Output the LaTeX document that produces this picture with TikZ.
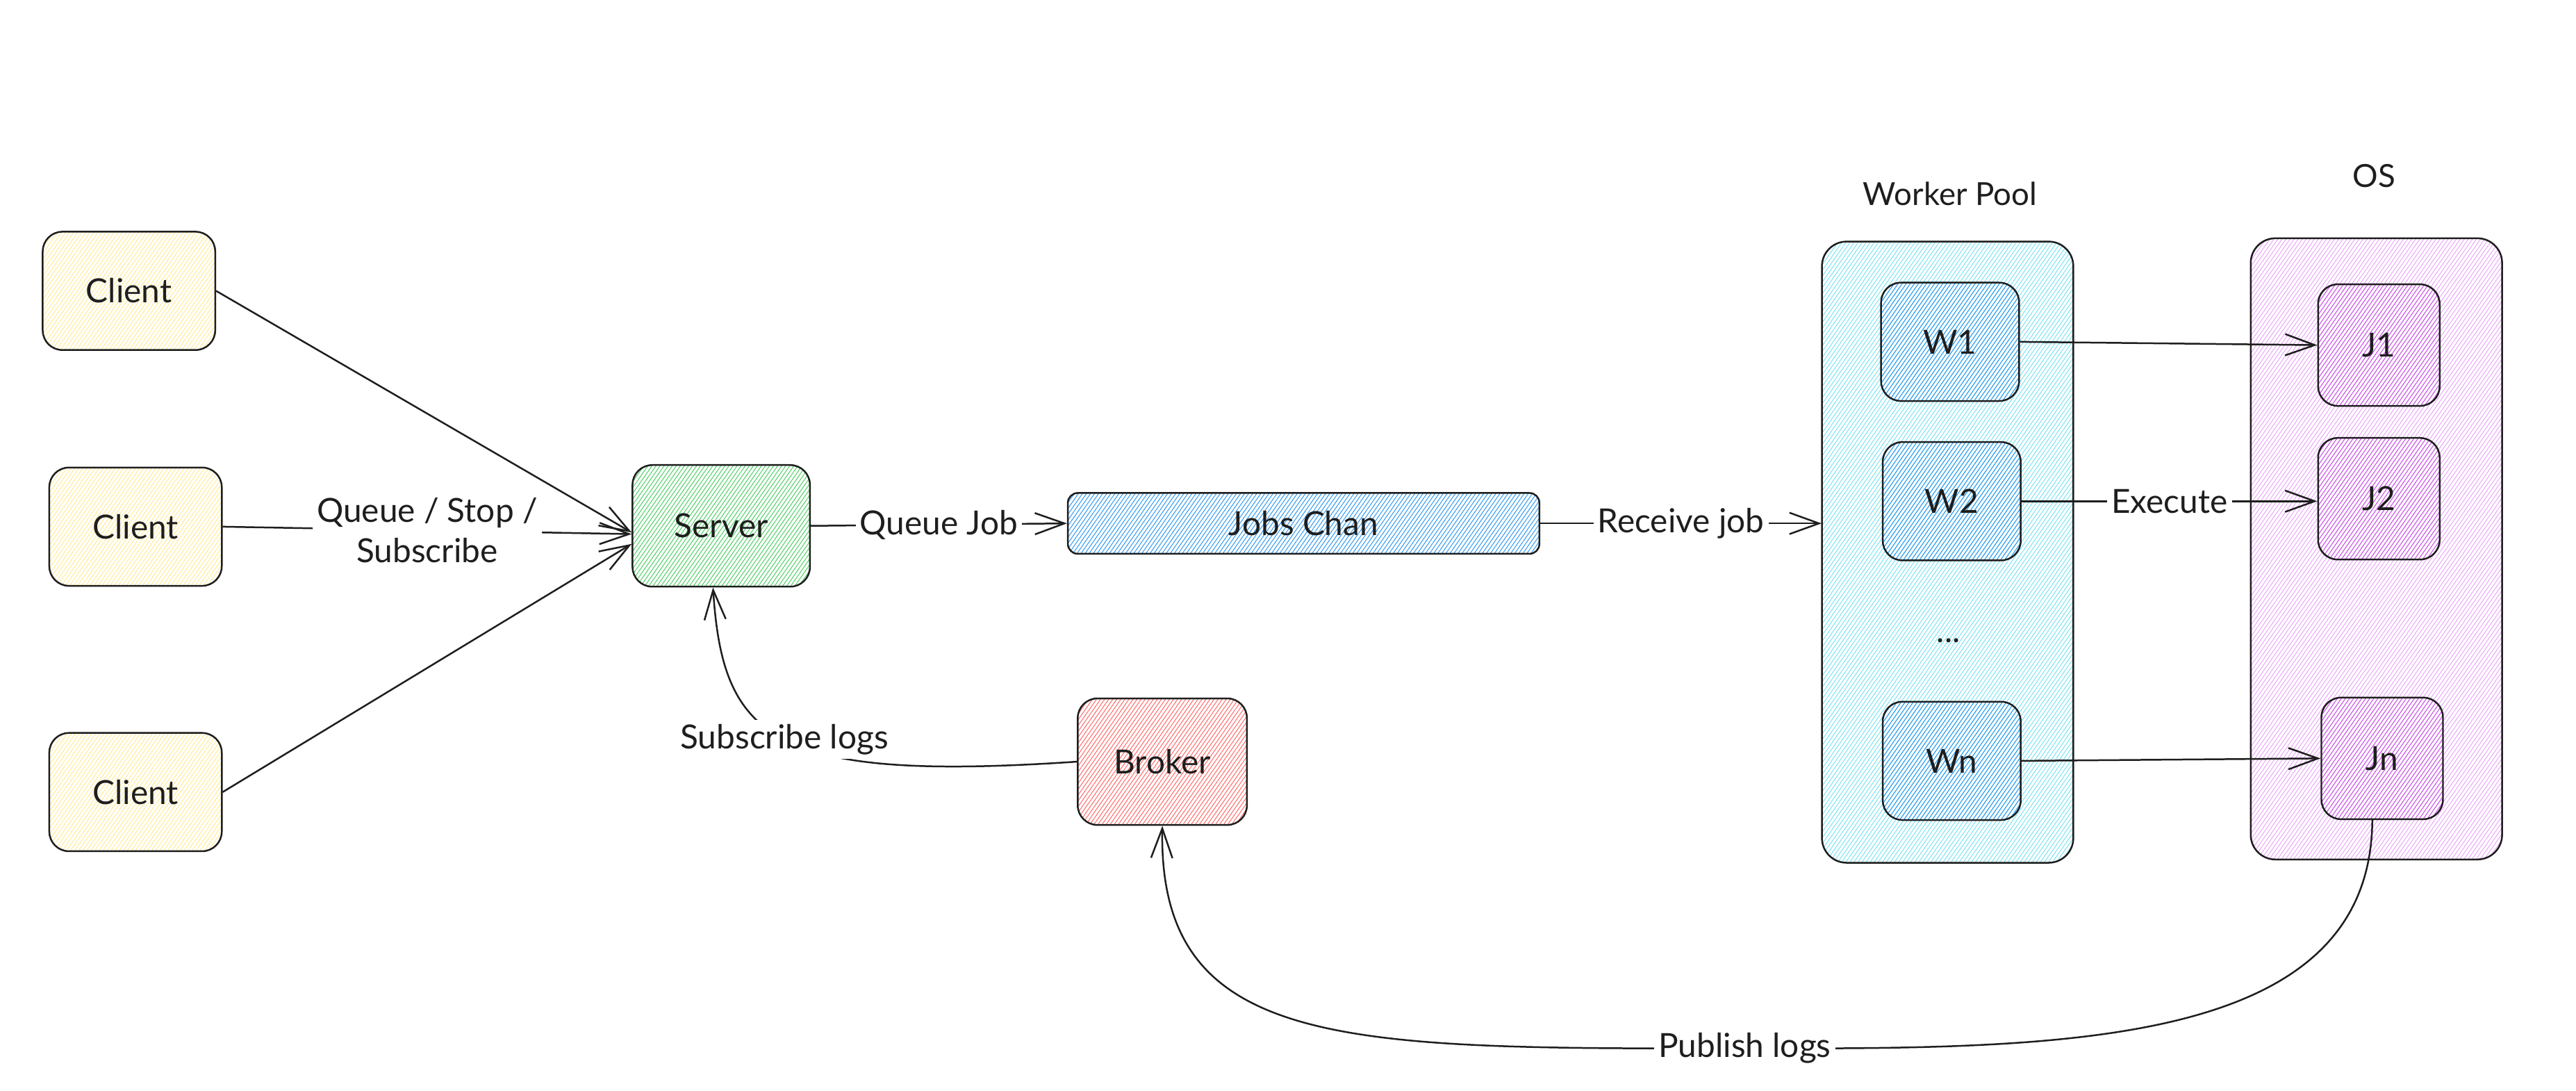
\documentclass[tikz,border=0pt]{standalone}
\usepackage{fontspec}
\setmainfont{Lato}
\usetikzlibrary{arrows.meta,patterns.meta,calc}
\definecolor{ink}{HTML}{1E1E1E}
\definecolor{cyel}{HTML}{FFEC99}
\definecolor{cgrn}{HTML}{51CF66}
\definecolor{cblu}{HTML}{339AF0}
\definecolor{cred}{HTML}{FF6B6B}
\definecolor{ccya}{HTML}{7EE3EF}
\definecolor{cvio}{HTML}{E8A8F8}
\definecolor{cmag}{HTML}{CC5DE8}
\begin{document}
\begin{tikzpicture}[x=0.2mm,y=-0.2mm,
  font=\fontsize{11.5}{14}\selectfont,
  box/.style={draw=ink, line width=0.6pt, rounded corners=2.4mm, text=ink, inner sep=0pt},
  hatch/.style={pattern={Lines[angle=55,distance=1.15pt,line width=0.25pt]}, pattern color=#1},
  clientbox/.style={box, hatch=cyel, minimum width=21mm, minimum height=14.4mm},
  wbox/.style={box, hatch=cblu, minimum width=16.8mm, minimum height=14.4mm},
  jbox/.style={box, hatch=cmag, minimum width=14.8mm, minimum height=14.8mm},
  groupbox/.style={box, rounded corners=3mm, minimum width=30.6mm, minimum height=75.6mm},
  conn/.style={draw=ink, line width=0.6pt, -{Straight Barb[length=3.6mm,width=2.6mm]}},
  lbl/.style={fill=white, inner sep=1.5pt, text=ink},
  title/.style={text=ink, font=\fontsize{11}{13}\selectfont}]
\useasboundingbox (0,0) rectangle (1568,663.5);

% containers
\node[groupbox, hatch=ccya] (pool) at (1185.5,336) {};
\node[groupbox, hatch=cvio] (os) at (1446.5,334) {};
\node[title] (pooltitle) at (1187,118) {Worker Pool};
\node[title] (ostitle) at (1445,107) {OS};

% nodes
\node[clientbox] (c1) at (78.5,177) {Client};
\node[clientbox] (c2) at (82.5,320.5) {Client};
\node[clientbox] (c3) at (82.5,482) {Client};
\node[box, hatch=cgrn, minimum width=21.6mm, minimum height=14.8mm] (server) at (439,320) {Server};
\node[box, hatch=cblu, rounded corners=1.2mm, minimum width=57.4mm, minimum height=7.4mm] (jobs) at (793.5,318.5) {Jobs Chan};
\node[box, hatch=cred, minimum width=20.6mm, minimum height=15.4mm] (broker) at (707.5,463.5) {Broker};

\node[wbox] (w1) at (1187,208) {W1};
\node[wbox] (w2) at (1188,305) {W2};
\node[text=ink] (dots) at (1186,390) {...};
\node[wbox] (wn) at (1188,463) {Wn};

\node[jbox] (j1) at (1448,210) {J1};
\node[jbox] (j2) at (1448,303.5) {J2};
\node[jbox] (jn) at (1450,461.5) {Jn};

% connectors
\draw[conn] (c1.east) -- ([yshift=-0.8mm]server.west);
\draw[conn] (c2.east) -- node[lbl, align=center] {Queue / Stop /\\Subscribe} ([yshift=-1mm]server.west);
\draw[conn] (c3.east) -- ([yshift=-2.2mm]server.west);
\draw[conn] (server.east) -- node[lbl] {Queue Job} (jobs.west);
\draw[conn] (jobs.east) -- node[lbl] {Receive job} (jobs.east -| pool.west);
\draw[conn] (w1.east) -- (j1.west);
\draw[conn] (w2.east) -- node[lbl] {Execute} (w2.east -| j2.west);
\draw[conn] (wn.east) -- (jn.west);

\draw[conn] (broker.west) .. controls (470,476) and (440,450) .. node[lbl, pos=0.5] {Subscribe logs} ([xshift=-1mm]server.south);

\coordinate (pubmid) at (1062,638);
\draw[draw=ink, line width=0.6pt] ([xshift=-1.2mm]jn.south) .. controls (1443,640) and (1250,638) .. (pubmid);
\draw[conn] (pubmid) .. controls (820,638) and (705,640) .. (broker.south);
\node[lbl] (publbl) at (pubmid) {Publish logs};
\end{tikzpicture}
\end{document}
